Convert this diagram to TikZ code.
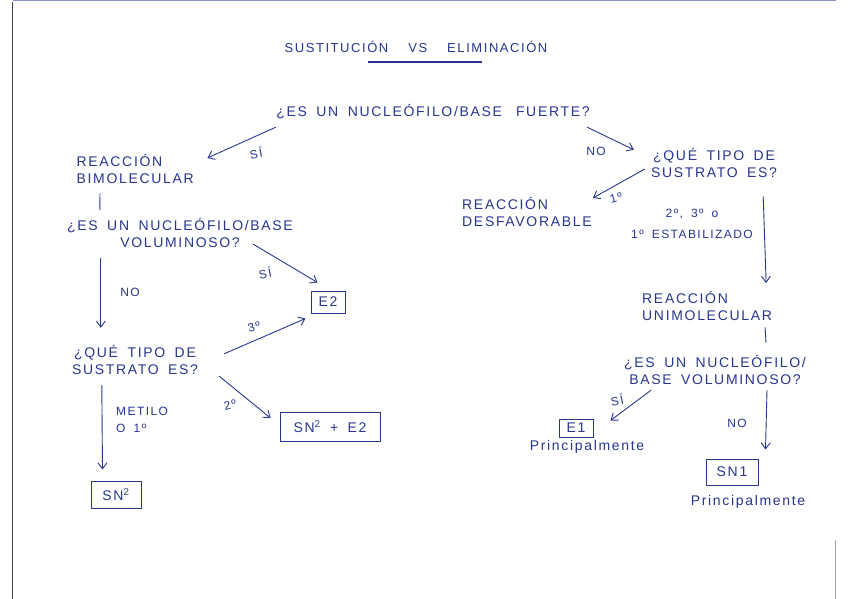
\documentclass[tikz,border=0pt]{standalone}
\usepackage{fontspec}
\setmainfont{Liberation Sans}[LetterSpace=12, WordSpace=1.7]
\usetikzlibrary{arrows.meta}
\definecolor{ink}{RGB}{40,54,142}
\begin{document}
\begin{tikzpicture}[x=1pt,y=-1pt,
  txt/.style={text=ink, font=\fontsize{14}{17}\selectfont, inner sep=0pt},
  small/.style={txt, font=\fontsize{12}{17}\selectfont},
  lnk/.style={draw=ink, line width=0.9pt},
  arr/.style={lnk, -{Straight Barb[length=6pt,width=9pt]}},
  res/.style={txt, draw=ink, line width=1pt, inner sep=0pt}]
\useasboundingbox (0,0) rectangle (848,599);
\fill[white] (0,0) rectangle (848,599);
% scanned page edges
\draw[black!75, line width=1pt] (12.5,2) -- (12.5,599);
\draw[ink!55, line width=1.2pt] (13,0.6) -- (836,0.6);
\draw[black!35, line width=0.6pt] (835.5,540) -- (835.5,599);

% title
\node[txt, font=\fontsize{13}{17}\selectfont] (title) at (416,47) {SUSTITUCIÓN\hspace{20pt}VS\hspace{20pt}ELIMINACIÓN};
\draw[lnk, line width=1.2pt] (368,62) -- (482,62);

% nodes
\node[txt, minimum width=340, minimum height=18] (q1) at (433,112) {¿ES UN NUCLEÓFILO/BASE\hspace{14pt}FUERTE?};
\node[txt, align=left, anchor=north west, minimum width=122, minimum height=34] (rb) at (74,152) {REACCIÓN\\BIMOLECULAR};
\node[txt, align=center, minimum width=226, minimum height=36] (q2) at (180,233) {¿ES UN NUCLEÓFILO/BASE\\VOLUMINOSO?};
\node[res, minimum width=34, minimum height=22] (e2) at (328,302) {E2};
\node[txt, align=center, minimum width=126, minimum height=36] (q3) at (135,360) {¿QUÉ TIPO DE\\SUSTRATO ES?};
\node[res, minimum width=100, minimum height=29] (sne2) at (330,427) {SN\textsuperscript{2} + E2};
\node[res, minimum width=50, minimum height=27] (sn2) at (116,495) {SN\textsuperscript{2}};

\node[txt, align=center, minimum width=134, minimum height=36] (q4) at (714,163) {¿QUÉ TIPO DE\\SUSTRATO ES?};
\node[txt, align=left, anchor=north west, minimum width=112, minimum height=34] (rd) at (462,195) {REACCIÓN\\DESFAVORABLE};
\node[small, align=center, font=\fontsize{12}{21}\selectfont] (l234) at (692,224) {2º, 3º o\\1º ESTABILIZADO};
\node[txt, align=left, anchor=north west, minimum width=128, minimum height=34] (ru) at (642,289) {REACCIÓN\\UNIMOLECULAR};
\node[txt, align=center, minimum width=176, minimum height=36] (q5) at (715,370) {¿ES UN NUCLEÓFILO/\\BASE VOLUMINOSO?};
\node[res, minimum width=34, minimum height=18] (e1) at (576,428) {E1};
\node[txt] (p1) at (587,447) {Principalmente};
\node[res, minimum width=52, minimum height=26] (sn1) at (732,472) {SN1};
\node[txt] (p2) at (748,502) {Principalmente};

% connectors
\draw[arr] ([shift={(13,6)}]q1.south west) -- ([shift={(11,6)}]rb.north east);
\node[small, rotate=10] (l1) at (256,153) {SÍ};
\draw[arr] ([shift={(-16,6)}]q1.south east) -- ([shift={(-13,5)}]q4.north west);
\node[small] (l2) at (596,151) {NO};

\draw[lnk] ([shift={(26,7)}]rb.south west) -- ([shift={(33,-5)}]q2.north west);
\draw[arr] ([shift={(-40,-7)}]q2.south east) -- ([shift={(7,-8)}]e2.north west);
\node[small, rotate=12] (l3) at (265,273) {SÍ};
\draw[arr] ([shift={(34,7)}]q2.south west) -- ([shift={(29,-14)}]q3.north west);
\node[small] (l4) at (130,292) {NO};

\draw[arr] ([shift={(26,12)}]q3.north east) -- ([shift={(-5,5)}]e2.south west);
\node[small, rotate=15] (l5) at (254,327) {3º};
\draw[arr] ([shift={(21,-2)}]q3.south east) -- ([shift={(-9,-9)}]sne2.west);
\node[small, rotate=12] (l6) at (230,405) {2º};
\draw[arr] ([shift={(30,7)}]q3.south west) -- ([shift={(12,-11.5)}]sn2.north west);
\node[small, align=left, anchor=north west] (l7) at (116,407) {METILO\\O 1º};

\draw[arr] ([shift={(-2,6)}]q4.west) -- ([shift={(1,3)}]rd.north east);
\node[small, rotate=15] (l8) at (616,198) {1º};
\draw[arr] ([shift={(-18,15)}]q4.south east) -- ([shift={(-6,-6)}]ru.north east);
\draw[lnk] ([shift={(-7,4)}]ru.south east) -- ([shift={(-40,-9)}]q5.north east);
\draw[arr] ([shift={(27,2)}]q5.south west) -- ([shift={(17,2)}]e1.north east);
\node[small, rotate=12] (l9) at (617,400) {SÍ};
\draw[arr] ([shift={(-39,2)}]q5.south east) -- ([shift={(7,-9)}]sn1.north east);
\node[small] (l10) at (737,423) {NO};
\end{tikzpicture}
\end{document}
